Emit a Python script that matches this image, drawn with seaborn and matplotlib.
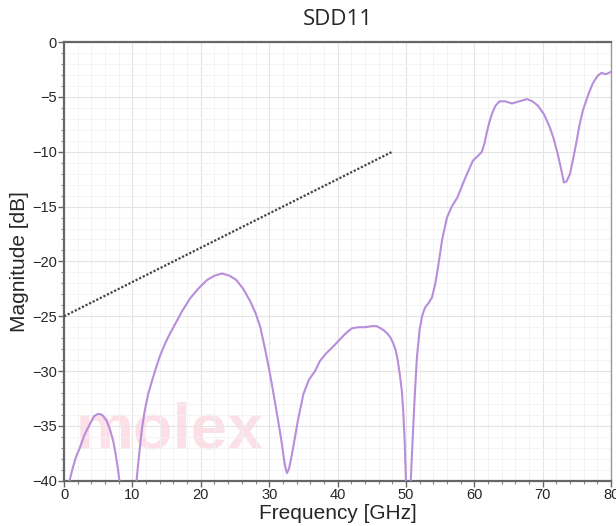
import matplotlib
matplotlib.use('Agg')
import matplotlib.pyplot as plt
from matplotlib.ticker import MultipleLocator
import pandas as pd
import seaborn as sns

# SDD11 magnitude, one list per visible branch
seg1_f = [0.8, 1.2, 1.7, 2.3, 3.0, 3.8, 4.4, 5.0, 5.6, 6.2, 6.7, 7.2, 7.5, 7.8, 8.1]
seg1_db = [-40.0, -39.0, -37.9, -37.0, -35.8, -34.8, -34.1, -33.9, -34.0, -34.5, -35.3,
           -36.4, -37.4, -38.6, -40.0]

seg2_f = [10.6, 10.8, 11.0, 11.2, 11.4, 11.8, 12.3, 12.9, 13.5, 14.1, 14.7, 15.3, 16.0,
          17.2, 18.4, 19.6, 20.9, 22.0, 23.1, 24.2, 25.2, 26.2, 27.2, 28.0, 28.7, 29.4,
          30.1, 30.7, 31.3, 31.7, 32.0, 32.3, 32.6, 32.9, 33.2, 33.5, 34.2, 35.0, 35.8,
          36.7, 37.4, 38.3, 39.3, 40.5, 41.3, 42.1, 43.0, 44.0, 45.0, 45.7, 46.3, 46.8,
          47.3, 47.7, 48.1, 48.5, 48.8, 49.1, 49.4, 49.6, 49.8, 50.0]
seg2_db = [-40.0, -38.7, -37.5, -36.3, -35.2, -33.6, -32.1, -30.8, -29.6, -28.5, -27.6,
           -26.8, -26.0, -24.6, -23.4, -22.5, -21.7, -21.3, -21.1, -21.3, -21.7, -22.5,
           -23.6, -24.7, -26.0, -28.0, -30.2, -32.3, -34.5, -36.0, -37.3, -38.6, -39.3,
           -38.9, -38.0, -37.0, -34.5, -32.1, -30.8, -30.0, -29.1, -28.4, -27.8, -27.0,
           -26.5, -26.1, -26.0, -26.0, -25.9, -25.9, -26.1, -26.3, -26.6, -26.9, -27.4,
           -28.1, -29.0, -30.3, -31.8, -33.6, -36.2, -40.0]

seg3_f = [50.7, 50.85, 51.0, 51.15, 51.3, 51.6, 52.0, 52.4, 52.8, 53.3, 53.8, 54.3, 54.7,
          55.3, 56.0, 56.7, 57.5, 58.6, 59.8, 60.5, 61.1, 61.5, 61.8, 62.2, 62.6, 63.1,
          63.7, 64.5, 65.5, 66.6, 67.7, 68.5, 69.3, 70.2, 71.0, 71.6, 72.2, 72.7, 73.1,
          73.5, 74.0, 74.5, 75.0, 75.4, 75.9, 76.6, 77.3, 78.0, 78.6, 79.0, 79.4, 80.0]
seg3_db = [-40.0, -38.0, -36.0, -34.0, -32.1, -28.8, -26.2, -24.9, -24.2, -23.8, -23.3,
           -22.0, -20.5, -18.0, -16.0, -15.0, -14.2, -12.5, -10.8, -10.4, -10.0, -9.2,
           -8.3, -7.3, -6.5, -5.8, -5.4, -5.4, -5.6, -5.4, -5.2, -5.4, -5.8, -6.6, -7.7,
           -8.8, -10.2, -11.6, -12.8, -12.7, -12.0, -10.5, -8.9, -7.5, -6.2, -4.9, -3.8,
           -3.1, -2.8, -2.9, -2.9, -2.7]

# limit line
limit_f = [0, 48]
limit_db = [-25, -10]

curve = pd.concat([
    pd.DataFrame({'freq': seg1_f, 'db': seg1_db, 'seg': 1}),
    pd.DataFrame({'freq': seg2_f, 'db': seg2_db, 'seg': 2}),
    pd.DataFrame({'freq': seg3_f, 'db': seg3_db, 'seg': 3}),
])
limit = pd.DataFrame({'freq': limit_f, 'db': limit_db})

sns.set_style('white')
plt.rcParams['font.family'] = ['Liberation Sans', 'DejaVu Sans']

fig, ax = plt.subplots(figsize=(6.16, 5.26), dpi=100)
fig.subplots_adjust(left=0.104, right=0.992, bottom=0.086, top=0.920)

# watermark
ax.text(15.4, -37.1, 'molex', color='#fde0e7', fontsize=47, fontweight='bold',
        ha='center', va='baseline', zorder=0)

sns.lineplot(data=curve, x='freq', y='db', units='seg', estimator=None, sort=False,
             color='#b88ddb', linewidth=1.5, ax=ax, zorder=3)
sns.lineplot(data=limit, x='freq', y='db', color='#444444', linewidth=1.6,
             linestyle=(0, (1, 0.8)), ax=ax, zorder=3)

ax.set_xlim(0, 80)
ax.set_ylim(-40, 0)
ax.xaxis.set_major_locator(MultipleLocator(10))
ax.xaxis.set_minor_locator(MultipleLocator(2))
ax.yaxis.set_major_locator(MultipleLocator(5))
ax.yaxis.set_minor_locator(MultipleLocator(1))
ax.grid(which='major', color='#e4e4e4', linewidth=0.8)
ax.grid(which='minor', color='#f3f3f3', linewidth=0.6)
ax.set_axisbelow(True)

for side in ['left', 'bottom', 'top']:
    ax.spines[side].set_color('#666666')
    ax.spines[side].set_linewidth(1.6)
ax.spines['right'].set_color('#999999')
ax.spines['right'].set_linewidth(1.0)

ax.tick_params(which='major', length=4, width=1, color='#666666', labelsize=10.5,
               pad=1, direction='out', left=True, bottom=True)
ax.tick_params(which='minor', length=2, width=0.8, color='#888888', direction='out',
               left=True, bottom=True)

ax.set_title('SDD11', fontsize=16, pad=12, family=['Open Sans', 'DejaVu Sans'])
ax.set_xlabel('Frequency [GHz]', fontsize=15, labelpad=2)
ax.set_ylabel('Magnitude [dB]', fontsize=15, labelpad=2)

plt.savefig('out.png', dpi=100)
